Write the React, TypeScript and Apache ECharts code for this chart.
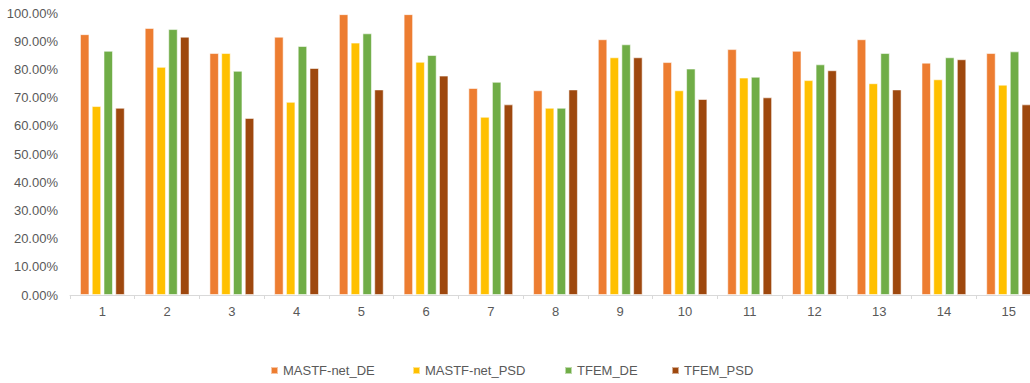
import React, { useEffect, useRef } from "react";
import * as echarts from "echarts";

const categories = ["1", "2", "3", "4", "5", "6", "7", "8", "9", "10", "11", "12", "13", "14", "15"];
const seriesNames = ["MASTF-net_DE", "MASTF-net_PSD", "TFEM_DE", "TFEM_PSD"];
const mastfDE = [0.925, 0.947, 0.858, 0.916, 0.996, 0.996, 0.734, 0.726, 0.907, 0.826, 0.872, 0.866, 0.907, 0.824, 0.858];
const mastfPSD = [0.67, 0.809, 0.858, 0.685, 0.895, 0.827, 0.632, 0.664, 0.843, 0.726, 0.771, 0.762, 0.751, 0.765, 0.746];
const tfemDE = [0.866, 0.943, 0.795, 0.883, 0.928, 0.851, 0.756, 0.664, 0.889, 0.803, 0.774, 0.818, 0.858, 0.843, 0.864];
const tfemPSD = [0.664, 0.916, 0.628, 0.805, 0.729, 0.778, 0.676, 0.729, 0.843, 0.695, 0.701, 0.797, 0.729, 0.836, 0.676];
const colors = ["#ED7D31", "#FFC000", "#70AD47", "#9E480E"];
const legendLefts = [270, 412, 564, 671];

const FONT = "'Liberation Sans', Arial, sans-serif";

export default function App() {
  const ref = useRef<HTMLDivElement>(null);
  useEffect(() => {
    if (!ref.current) return;
    const chart = echarts.init(ref.current, undefined, { renderer: "svg" });
    const values = [mastfDE, mastfPSD, tfemDE, tfemPSD];
    chart.setOption({
      animation: false,
      backgroundColor: "#ffffff",
      textStyle: { fontFamily: FONT },
      grid: { left: 70, top: 13, width: 971, height: 282, containLabel: false, outerBoundsMode: "none" },
      legend: seriesNames.map((name, i) => ({
        data: [name],
        left: legendLefts[i],
        top: 364,
        padding: 0,
        itemWidth: 7,
        itemHeight: 7,
        icon: "rect",
        textStyle: { color: "#595959", fontSize: 13, fontFamily: FONT },
      })),
      xAxis: {
        type: "category",
        data: categories,
        axisLine: { lineStyle: { color: "#D9D9D9", width: 1 } },
        axisTick: { show: true, alignWithLabel: false, length: 4, lineStyle: { color: "#D9D9D9" } },
        axisLabel: { color: "#595959", fontSize: 13, fontFamily: FONT, margin: 10 },
      },
      yAxis: {
        type: "value",
        min: 0,
        max: 1,
        interval: 0.1,
        splitLine: { show: false },
        axisLine: { show: false },
        axisTick: { show: false },
        axisLabel: {
          color: "#595959",
          fontSize: 13,
          fontFamily: FONT,
          margin: 12,
          formatter: (v: number) => (v * 100).toFixed(2) + "%",
        },
      },
      series: seriesNames.map((name, i) => ({
        name,
        type: "bar",
        data: values[i],
        barWidth: 9.5,
        barGap: "24%",
        itemStyle: { color: colors[i], borderColor: "rgba(255,255,255,0.55)", borderWidth: 1 },
      })),
    });
    return () => chart.dispose();
  }, []);
  return <div ref={ref} style={{ position: "absolute", left: 0, top: 0, width: 1030, height: 383 }} />;
}
